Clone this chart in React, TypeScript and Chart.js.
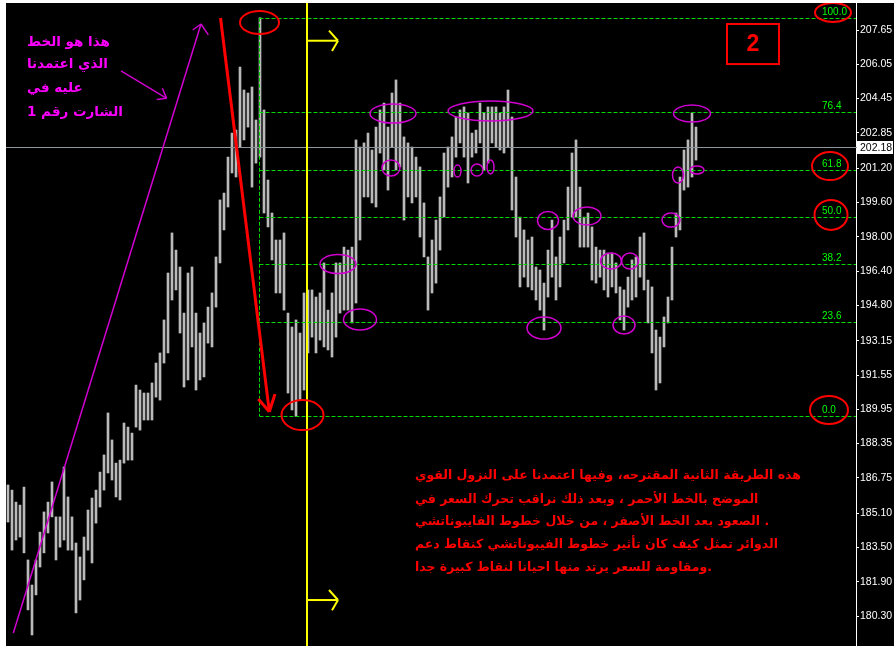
import React, { useEffect, useRef } from "react";
import { Chart, registerables } from "chart.js";

Chart.register(...registerables);

// ---------- data ----------
const HIGHS = [
  186.42, 186.18, 185.62, 185.48, 186.32, 182.92, 181.75, 182.92, 184.22, 185.16,
  185.62, 186.56, 184.93, 184.93, 187.26, 185.86, 184.93, 183.71, 183.06, 183.99,
  185.25, 185.81, 186.18, 187.02, 187.82, 189.78, 188.52, 187.44, 187.58, 189.31,
  189.12, 188.84, 191.08, 190.85, 190.71, 190.71, 191.18, 192.11, 192.58, 194.12,
  196.31, 198.18, 197.38, 196.59, 194.44, 196.31, 196.59, 194.44, 193.51, 193.98,
  194.72, 195.38, 197.06, 199.72, 200.04, 201.72, 202.84, 202.98, 205.92, 204.85,
  204.71, 204.99, 203.45, 208.22, 203.92, 200.65, 199.11, 197.85, 197.85, 198.18,
  194.44, 193.79, 194.12, 193.51, 195.38, 195.52, 195.52, 195.19, 195.38, 196.78,
  194.58, 195.38, 196.78, 196.78, 197.52, 197.38, 197.52, 202.52, 202.19, 202.38,
  202.84, 202.05, 203.12, 203.92, 204.24, 203.12, 204.71, 205.32, 204.24, 202.66,
  202.38, 202.19, 201.72, 201.26, 199.58, 197.06, 197.85, 198.78, 199.86, 201.91,
  202.19, 202.66, 203.59, 203.92, 204.06, 203.78, 202.84, 202.98, 204.24, 203.78,
  204.06, 204.06, 204.06, 203.78, 204.06, 204.85, 203.59, 200.79, 198.92, 198.32,
  197.85, 197.99, 196.59, 196.45, 195.84, 197.38, 198.78, 197.06, 197.99, 198.78,
  200.32, 201.91, 202.52, 200.32, 198.92, 199.11, 198.46, 197.52, 197.38, 197.38,
  197.24, 197.24, 196.78, 195.66, 195.52, 196.12, 196.92, 197.06, 197.99, 198.18,
  195.98, 195.66, 193.65, 193.32, 194.26, 195.19, 197.52, 199.11, 200.79, 202.05,
  202.52, 203.78, 203.12,
];
const LOWS = [
  184.69, 183.38, 183.85, 183.99, 183.25, 180.59, 179.42, 181.29, 182.59, 183.25,
  184.18, 184.93, 182.92, 183.52, 183.85, 183.38, 183.38, 180.45, 181.05, 181.99,
  183.38, 182.78, 184.64, 185.39, 186.18, 186.98, 186.65, 185.86, 185.72, 187.44,
  187.58, 187.58, 189.12, 188.98, 189.45, 189.45, 189.45, 190.52, 190.38, 192.11,
  192.58, 195.05, 195.52, 193.51, 190.99, 191.32, 192.86, 190.85, 191.32, 191.46,
  193.04, 192.86, 194.72, 196.78, 198.32, 199.39, 200.98, 200.79, 202.19, 202.52,
  203.12, 200.32, 201.44, 201.72, 199.11, 198.46, 196.92, 195.38, 195.38, 194.58,
  190.71, 189.92, 189.62, 190.38, 190.85, 192.58, 193.32, 192.58, 193.18, 192.86,
  192.72, 192.39, 193.32, 194.44, 194.58, 194.58, 193.98, 194.91, 197.85, 199.86,
  199.86, 199.58, 199.39, 201.91, 201.12, 200.18, 202.19, 201.12, 201.26, 198.78,
  199.86, 199.58, 199.86, 197.99, 197.06, 194.58, 195.38, 195.84, 197.38, 198.92,
  200.32, 200.79, 201.72, 202.38, 201.72, 200.51, 201.72, 201.91, 202.38, 201.12,
  201.44, 202.38, 202.19, 202.05, 201.91, 202.19, 199.25, 197.99, 195.66, 196.12,
  195.66, 195.52, 195.05, 194.58, 193.65, 195.19, 196.12, 195.05, 195.66, 196.78,
  198.32, 198.92, 198.92, 197.52, 197.52, 197.52, 195.98, 195.84, 196.12, 195.52,
  195.19, 195.66, 195.38, 194.12, 193.65, 194.72, 195.05, 195.19, 196.12, 195.52,
  193.98, 192.58, 190.85, 191.18, 192.86, 193.98, 195.05, 197.99, 198.32, 200.18,
  200.32, 200.79, 201.58,
];
const TICK_LABELS = [
  "207.65", "206.05", "204.45", "202.85", "201.20", "199.60", "198.00", "196.40", "194.80",
  "193.15", "191.55", "189.95", "188.35", "186.75", "185.10", "183.50", "181.90", "180.30",
];
const LAST_PRICE = 202.18;
const FIB_HIGH = 208.22;
const FIB_LOW = 189.62;
const FIB_LEVELS = [0, 23.6, 38.2, 50, 61.8, 76.4, 100];

const NOTE_TOP = ["هذا هو الخط", "الذي اعتمدنا", "عليه في", "الشارت رقم 1"];
const NOTE_BOTTOM = [
  "هذه الطريقة الثانية المقترحه، وفيها اعتمدنا على النزول القوي",
  "الموضح بالخط الأحمر ، وبعد ذلك نراقب تحرك السعر في",
  ". الصعود بعد الخط الأصفر ، من خلال خطوط الفايبوناتشي",
  "الدوائر تمثل كيف كان تأثير خطوط الفيبوناتشي كنقاط دعم",
  ".ومقاومة للسعر يرتد منها احيانا لنقاط كبيرة جدا",
];
const BOX_LABEL = "2";

// ---------- layout / annotation config (in data units: bar index, price) ----------
const Y_MIN = 178.905;
const Y_MAX = 208.91;
const X_MIN = -0.5;
const X_MAX = 212;
const FIB_INDEX = 62.75;
const FIB_LABEL_INDEX = 203.5;
const YELLOW_INDEX = 74.75;

// [index, price, rx(px), ry(px)]
const RED_RINGS = [
  [62.88, 208.0, 19.5, 11.5],
  [73.63, 189.68, 21, 15],
  [206.25, 208.47, 18, 9.5],
  [205.5, 201.3, 18, 14],
  [205.75, 199.02, 16.5, 15],
  [205.25, 189.92, 19, 14],
];
const PINK_RINGS = [
  [96.25, 203.75, 23, 9.5],
  [95.75, 201.21, 9, 8],
  [120.63, 203.87, 42.5, 10],
  [112.38, 201.07, 3.5, 6],
  [117.25, 201.12, 6, 6],
  [120.63, 201.26, 3.5, 7],
  [82.5, 196.73, 18, 9.5],
  [88, 194.14, 16.5, 10.5],
  [135, 198.76, 10.5, 9],
  [144.75, 198.97, 14, 9],
  [134, 193.74, 17, 11],
  [150.75, 196.87, 10.5, 8],
  [155.5, 196.87, 8.5, 8],
  [154, 193.88, 11, 9],
  [165.75, 198.78, 9, 7],
  [167.5, 200.88, 5.5, 8],
  [172.25, 201.12, 7, 4],
  [171, 203.75, 18.5, 8.5],
];
// arrows: [fromIdx, fromPrice, toIdx, toPrice, barb1Idx, barb1Price, barb2Idx, barb2Price]
const RED_ARROW = [53.13, 208.21, 65.33, 189.84, 62.58, 190.43, 66.75, 190.66];
const PINK_ARROWS = [
  [1.33, 179.51, 48.25, 207.93, 46.18, 207.65, 50.08, 207.42],
  [28.25, 205.74, 39.67, 204.46, 38.58, 204.93, 37.17, 204.41],
];
const YELLOW_ARROWS = [
  [74.75, 207.15, 82.5, 207.15, 80.25, 207.62, 81.0, 206.67],
  [74.75, 181.05, 82.5, 181.05, 80.25, 181.52, 81.0, 180.57],
];
const BOX = [179.75, 207.93, 192.75, 206.06];
const TOP_NOTE_POS = [4.75, [207.09, 206.02, 204.9, 203.82]] as const;
const BOTTOM_NOTE_POS = [101.75, [186.84, 185.72, 184.69, 183.62, 182.55]] as const;

const overlayPlugin = {
  id: "overlay",
  afterDatasetsDraw(chart: any) {
    const { ctx, chartArea: a, scales } = chart;
    const X = (v: number) => scales.x.getPixelForValue(v);
    const Y = (v: number) => scales.y.getPixelForValue(v);
    const seg = (x1: number, y1: number, x2: number, y2: number) => {
      ctx.beginPath();
      ctx.moveTo(x1, y1);
      ctx.lineTo(x2, y2);
      ctx.stroke();
    };
    const arrow = (d: number[]) => {
      const tx = X(d[2]), ty = Y(d[3]);
      seg(X(d[0]), Y(d[1]), tx, ty);
      seg(X(d[4]), Y(d[5]), tx, ty);
      seg(X(d[6]), Y(d[7]), tx, ty);
    };
    const ring = (r: number[]) => {
      ctx.beginPath();
      ctx.ellipse(X(r[0]), Y(r[1]), r[2], r[3], 0, 0, Math.PI * 2);
      ctx.stroke();
    };

    ctx.save();
    ctx.beginPath();
    ctx.rect(a.left, a.top, a.right - a.left, a.bottom - a.top);
    ctx.clip();
    ctx.lineCap = "butt";

    // current price line
    const yl = Math.round(Y(LAST_PRICE)) + 0.5;
    ctx.strokeStyle = "#8c949c";
    ctx.lineWidth = 1;
    seg(a.left, yl, a.right, yl);

    // fibonacci
    const range = FIB_HIGH - FIB_LOW;
    ctx.strokeStyle = "#00d800";
    ctx.setLineDash([4, 2]);
    const fx = Math.round(X(FIB_INDEX)) + 0.5;
    FIB_LEVELS.forEach((l) => {
      const y = Math.round(Y(FIB_LOW + (range * l) / 100)) + 0.5;
      seg(fx, y, a.right, y);
    });
    seg(fx, Y(FIB_HIGH), fx, Y(FIB_LOW));
    ctx.setLineDash([]);
    ctx.fillStyle = "#00ff00";
    ctx.font = "10px 'Liberation Sans'";
    ctx.textAlign = "left";
    ctx.textBaseline = "bottom";
    FIB_LEVELS.forEach((l) => {
      ctx.fillText(l.toFixed(1), X(FIB_LABEL_INDEX), Y(FIB_LOW + (range * l) / 100) - 1);
    });

    // yellow line + arrows
    ctx.strokeStyle = "#ffff00";
    ctx.lineWidth = 2;
    const yx = X(YELLOW_INDEX);
    seg(yx, a.top, yx, a.bottom);
    YELLOW_ARROWS.forEach(arrow);

    // magenta
    ctx.strokeStyle = "#d000d0";
    ctx.lineWidth = 1.5;
    PINK_ARROWS.forEach(arrow);
    PINK_RINGS.forEach(ring);

    // red arrow & rings
    ctx.strokeStyle = "#ff0000";
    ctx.lineWidth = 3;
    arrow(RED_ARROW);
    ctx.lineWidth = 2;
    RED_RINGS.forEach(ring);

    // box "2"
    const bx1 = X(BOX[0]), by1 = Y(BOX[1]), bx2 = X(BOX[2]), by2 = Y(BOX[3]);
    ctx.strokeRect(bx1, by1, bx2 - bx1, by2 - by1);
    ctx.fillStyle = "#ff0000";
    ctx.font = "bold 23px 'Liberation Sans'";
    ctx.textAlign = "center";
    ctx.textBaseline = "middle";
    ctx.fillText(BOX_LABEL, (bx1 + bx2) / 2, (by1 + by2) / 2 + 1);

    // notes (Arabic, right-to-left, left-aligned block)
    ctx.direction = "rtl";
    ctx.textAlign = "left";
    ctx.fillStyle = "#ff00ff";
    ctx.font = "bold 13.5px 'DejaVu Sans'";
    NOTE_TOP.forEach((t, i) => ctx.fillText(t, X(TOP_NOTE_POS[0]), Y(TOP_NOTE_POS[1][i])));
    ctx.fillStyle = "#ff0000";
    ctx.font = "bold 12.5px 'DejaVu Sans'";
    NOTE_BOTTOM.forEach((t, i) => ctx.fillText(t, X(BOTTOM_NOTE_POS[0]), Y(BOTTOM_NOTE_POS[1][i])));
    ctx.direction = "ltr";
    ctx.restore();

    // last price marker on the axis
    ctx.save();
    ctx.strokeStyle = "#8c949c";
    ctx.lineWidth = 1;
    seg(a.right, yl, a.right + 2, yl);
    const lx = a.right + 1;
    ctx.fillStyle = "#ffffff";
    ctx.fillRect(lx, yl - 6.5, chart.width - lx - 1, 13);
    ctx.fillStyle = "#000000";
    ctx.font = "10.5px 'Liberation Sans'";
    ctx.textAlign = "left";
    ctx.textBaseline = "middle";
    ctx.fillText(LAST_PRICE.toFixed(2), lx + 3, yl + 0.5);
    ctx.restore();
  },
};

export default function App() {
  const ref = useRef<HTMLCanvasElement | null>(null);
  useEffect(() => {
    if (!ref.current) return;
    const chart = new Chart(ref.current, {
      type: "bar",
      data: {
        datasets: [
          {
            data: HIGHS.map((h, i) => ({ x: i, y: [LOWS[i], h] })) as any,
            backgroundColor: "#bababa",
            borderWidth: 0,
            barThickness: 2,
            grouped: false,
          },
        ],
      },
      options: {
        animation: false,
        responsive: true,
        maintainAspectRatio: false,
        layout: { padding: 0 },
        plugins: { legend: { display: false }, tooltip: { enabled: false } },
        scales: {
          x: { type: "linear", display: false, min: X_MIN, max: X_MAX, offset: false },
          y: {
            position: "right",
            min: Y_MIN,
            max: Y_MAX,
            afterBuildTicks: (s: any) => {
              s.ticks = TICK_LABELS.map((t) => ({ value: Number(t) }));
            },
            afterFit: (s: any) => {
              s.width = 38;
              s.paddingTop = 0;
              s.paddingBottom = 0;
            },
            ticks: {
              autoSkip: false,
              color: "#ffffff",
              padding: 1,
              font: { family: "'Liberation Sans'", size: 10.5 },
              callback: (_v: any, i: number) => TICK_LABELS[i],
            },
            grid: { drawOnChartArea: false, color: "#ffffff", tickLength: 3 },
            border: { color: "#ffffff", width: 1 },
          },
        },
      },
      plugins: [overlayPlugin],
    });
    return () => chart.destroy();
  }, []);
  return (
    <div
      style={{
        position: "fixed",
        left: 6,
        top: 3,
        width: 888,
        height: 643,
        background: "#000",
      }}
    >
      <canvas ref={ref} />
    </div>
  );
}
